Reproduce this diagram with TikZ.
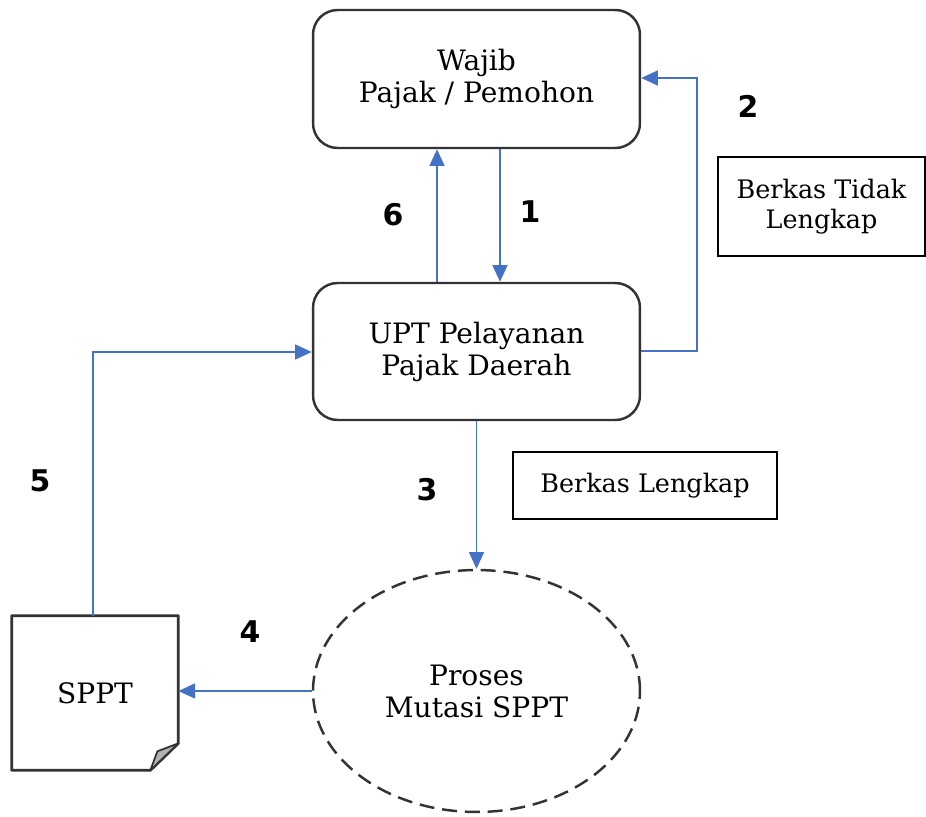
\documentclass[tikz,border=0pt]{standalone}
\usepackage{fontspec}
\setmainfont{DejaVu Serif}
\newfontfamily\numfont{DejaVu Sans}
\usetikzlibrary{arrows.meta,shapes.geometric,calc}
\definecolor{arrowblue}{HTML}{4472C4}
\definecolor{boxline}{HTML}{333333}
\tikzset{
  roundbox/.style={draw=boxline,line width=1.4pt,rounded corners=14pt,align=center,font=\fontsize{16}{18.2}\selectfont},
  plainbox/.style={draw=black,line width=1.5pt,align=center,font=\fontsize{14.5}{17}\selectfont},
  flow/.style={draw=arrowblue,line width=1pt,-{Triangle[length=9.5pt,width=8.5pt]}},
  stepnum/.style={font=\numfont\bfseries\fontsize{17}{19}\selectfont},
}
\begin{document}
\begin{tikzpicture}[x=0.02cm,y=-0.02cm]
\useasboundingbox (0,0) rectangle (926,817);
% nodes
\node[roundbox,minimum width=6.54cm,minimum height=2.76cm] (wp) at (476.5,79) {Wajib\\Pajak / Pemohon};
\node[roundbox,minimum width=6.54cm,minimum height=2.74cm] (upt) at (476.5,351.5) {UPT Pelayanan\\Pajak Daerah};
\node[plainbox,minimum width=4.14cm,minimum height=1.98cm] (btl) at (821.5,206.5) {Berkas Tidak\\Lengkap};
\node[plainbox,minimum width=5.28cm,minimum height=1.34cm] (bl) at (645,485.5) {Berkas Lengkap};
\node[ellipse,draw=boxline,line width=1.4pt,dash pattern=on 8.5pt off 4.5pt,minimum width=6.54cm,minimum height=4.84cm,align=center,font=\fontsize{16}{18.2}\selectfont] (pm) at (476.5,691) {Proses\\Mutasi SPPT};
\node[minimum width=3.32cm,minimum height=3.08cm,font=\fontsize{16}{18}\selectfont] (sppt) at (95,693) {SPPT};
% document shape with folded corner
\draw[boxline,line width=1.6pt,line join=round] (sppt.north west) -- (sppt.north east) -- ($(sppt.south east)+(0,-27)$) -- ($(sppt.south east)+(-28,0)$) -- (sppt.south west) -- cycle;
\filldraw[draw=boxline,fill=black!30,line width=1pt,line join=round] ($(sppt.south east)+(0,-27)$) -- ($(sppt.south east)+(-28,0)$) -- ($(sppt.south east)+(-21,-19)$) -- cycle;
% coordinates
\coordinate (c2a) at (697,351);
\coordinate (c2b) at (697,78);
\coordinate (c5a) at (93,352);
% connectors
\draw[flow] (wp.south -| 500,0) -- (upt.north -| 500,0);
\draw[flow] (upt.north -| 437,0) -- (wp.south -| 437,0);
\draw[flow] (upt.east |- c2a) -- (c2a) -- (c2b) -- (wp.east |- c2b);
\draw[flow] (upt.south) -- (pm.north);
\draw[flow] (pm.west) -- (sppt.east |- pm.west);
\draw[flow] (sppt.north -| c5a) -- (c5a) -- (upt.west |- c5a);
% step numbers
\node[stepnum] (n1) at (530,212) {1};
\node[stepnum] (n2) at (748,106) {2};
\node[stepnum] (n3) at (427,490) {3};
\node[stepnum] (n4) at (250,632) {4};
\node[stepnum] (n5) at (40,481) {5};
\node[stepnum] (n6) at (393,215) {6};
\end{tikzpicture}
\end{document}
